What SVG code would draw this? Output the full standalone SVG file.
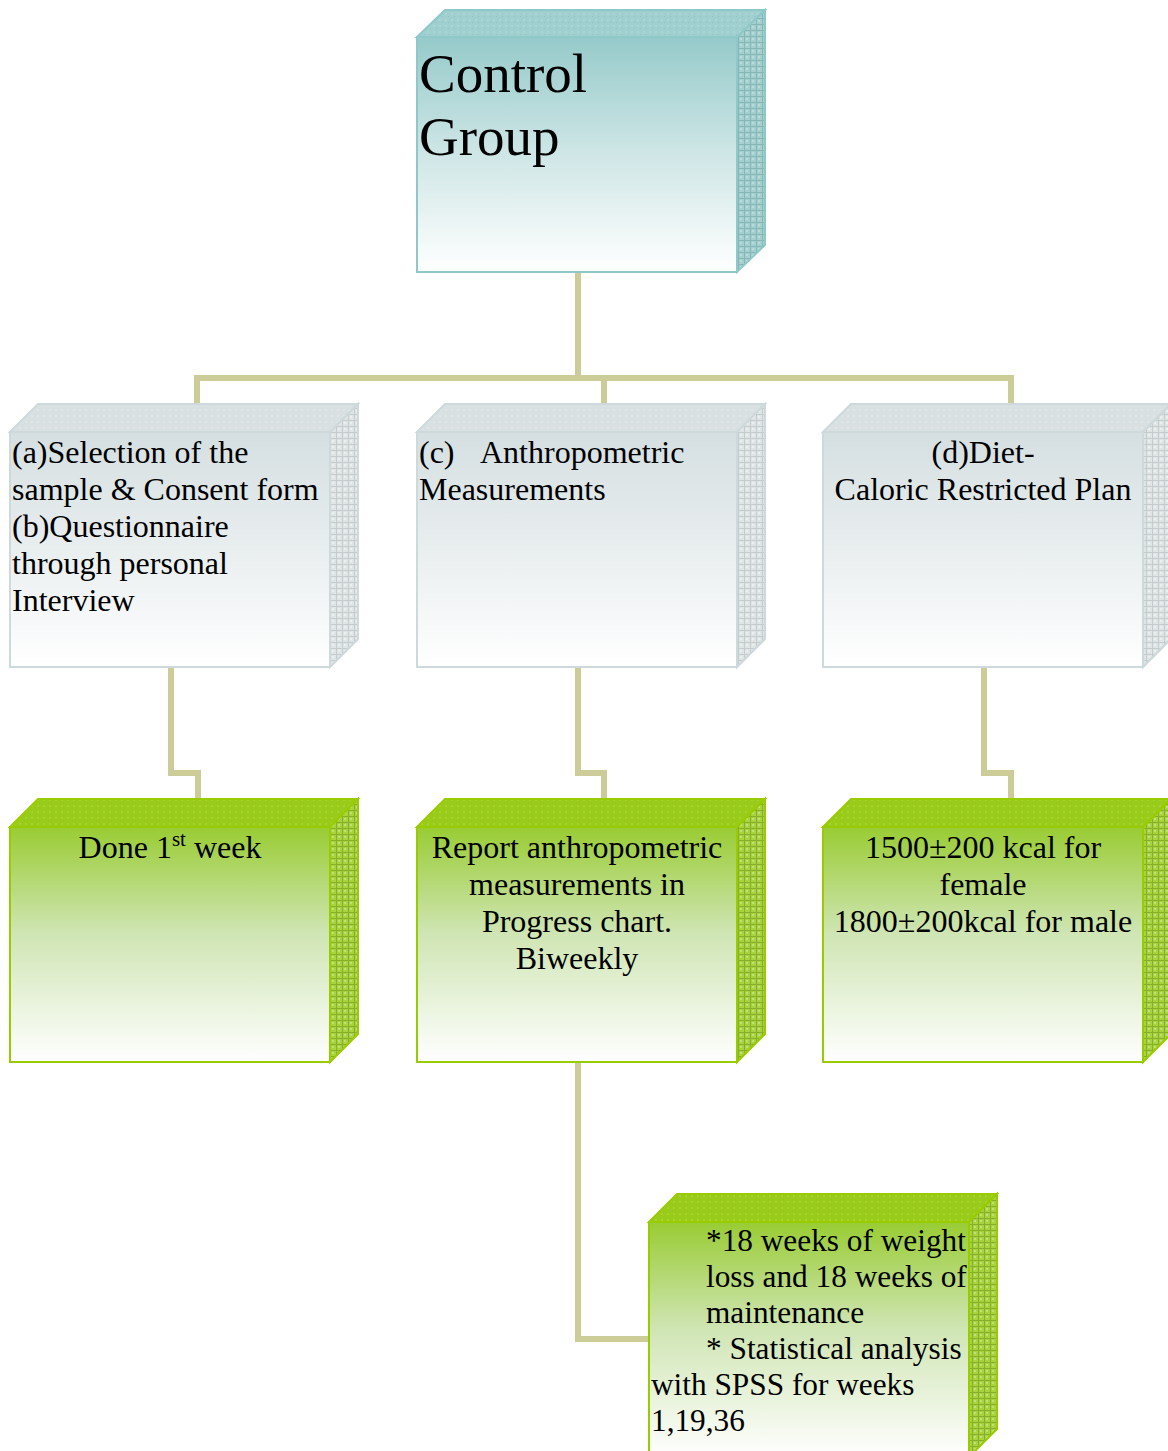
<svg xmlns="http://www.w3.org/2000/svg" width="1168" height="1451" viewBox="0 0 1168 1451">
<style>
text{font-family:"Liberation Serif","Times New Roman",serif;fill:#000}
.t{font-size:32px}
.s{font-size:31.3px}
.big{font-size:55px}
.conn{fill:none;stroke:#cccc99;stroke-width:6;stroke-linejoin:miter}
.fT{stroke:#8fc8c8;stroke-width:2}
.fG{stroke:#cdd9db;stroke-width:2}
.fV{stroke:#99cc00;stroke-width:2}
</style>
<defs>
<linearGradient id="gT" x1="0" y1="0" x2="0" y2="1"><stop offset="0" stop-color="#96caca"/><stop offset="0.5" stop-color="#cfe6e6"/><stop offset="1" stop-color="#ffffff"/></linearGradient>
<linearGradient id="gG" x1="0" y1="0" x2="0" y2="1"><stop offset="0" stop-color="#d5dfe1"/><stop offset="0.5" stop-color="#e9eeef"/><stop offset="1" stop-color="#ffffff"/></linearGradient>
<linearGradient id="gV" x1="0" y1="0" x2="0" y2="1"><stop offset="0" stop-color="#99cc33"/><stop offset="0.45" stop-color="#cfe5b3"/><stop offset="1" stop-color="#ffffff"/></linearGradient>
<pattern id="pT" width="6" height="6" patternUnits="userSpaceOnUse"><rect width="6" height="6" fill="#a3cfcf"/><path d="M0 0.5H6M0.5 0V6" stroke="#86b6b6" stroke-width="1"/><rect x="2" y="2" width="2" height="2" fill="#b8dbdb"/></pattern>
<pattern id="pT2" width="6" height="6" patternUnits="userSpaceOnUse"><rect width="6" height="6" fill="#9fcfcf"/><rect x="1" y="1" width="2" height="2" fill="#aad6d6"/><rect x="4" y="4" width="1" height="1" fill="#8fc3c3"/></pattern>
<pattern id="pG" width="6" height="6" patternUnits="userSpaceOnUse"><rect width="6" height="6" fill="#dfe4e5"/><path d="M0 0.5H6M0.5 0V6" stroke="#c5cccd" stroke-width="1"/><rect x="2" y="2" width="2" height="2" fill="#eceff0"/></pattern>
<pattern id="pG2" width="6" height="6" patternUnits="userSpaceOnUse"><rect width="6" height="6" fill="#d8e0e2"/><rect x="1" y="1" width="2" height="2" fill="#e0e6e8"/></pattern>
<pattern id="pV" width="6" height="6" patternUnits="userSpaceOnUse"><rect width="6" height="6" fill="#a8d23e"/><path d="M0 0.5H6M0.5 0V6" stroke="#86b02c" stroke-width="1"/><rect x="2" y="2" width="2" height="2" fill="#bfdf78"/></pattern>
<pattern id="pV2" width="6" height="6" patternUnits="userSpaceOnUse"><rect width="6" height="6" fill="#99cc1a"/><rect x="1" y="1" width="2" height="2" fill="#a6d42c"/></pattern>
</defs>

<g id="connectors">
<path class="conn" d="M578 272V378H197V404"/>
<path class="conn" d="M578 378H1011V404"/>
<path class="conn" d="M604 378V404"/>
<path class="conn" d="M171 667V773H198V799"/>
<path class="conn" d="M578 667V773H604V799"/>
<path class="conn" d="M984 667V773H1011V799"/>
<path class="conn" d="M578 1062V1339H649"/>
</g>

<g id="control">
<path d="M417 37L445 10H765L737 37Z" fill="url(#pT2)" class="fT"/>
<path d="M737 37L765 10V245L737 272Z" fill="url(#pT)" class="fT"/>
<rect x="417" y="37" width="320" height="235" fill="url(#gT)" class="fT"/>
<text class="big" x="419" y="92">Control</text>
<text class="big" x="419" y="155">Group</text>
</g>

<g id="a">
<path d="M10 432L38 404H358L330 432Z" fill="url(#pG2)" class="fG"/>
<path d="M330 432L358 404V639L330 667Z" fill="url(#pG)" class="fG"/>
<rect x="10" y="432" width="320" height="235" fill="url(#gG)" class="fG"/>
<text class="t" x="12" y="463">(a)Selection of the</text>
<text class="t" x="12" y="500">sample &amp; Consent form</text>
<text class="t" x="12" y="537">(b)Questionnaire</text>
<text class="t" x="12" y="574">through personal</text>
<text class="t" x="12" y="611">Interview</text>
</g>

<g id="c">
<path d="M417 432L445 404H765L737 432Z" fill="url(#pG2)" class="fG"/>
<path d="M737 432L765 404V639L737 667Z" fill="url(#pG)" class="fG"/>
<rect x="417" y="432" width="320" height="235" fill="url(#gG)" class="fG"/>
<text class="t" x="419" y="463">(c)</text>
<text class="t" x="480" y="463">Anthropometric</text>
<text class="t" x="419" y="500">Measurements</text>
</g>

<g id="d">
<path d="M823 432L851 404H1171L1143 432Z" fill="url(#pG2)" class="fG"/>
<path d="M1143 432L1171 404V639L1143 667Z" fill="url(#pG)" class="fG"/>
<rect x="823" y="432" width="320" height="235" fill="url(#gG)" class="fG"/>
<text class="t" x="983" y="463" text-anchor="middle">(d)Diet-</text>
<text class="t" x="983" y="500" text-anchor="middle">Caloric Restricted Plan</text>
</g>

<g id="done">
<path d="M10 827L38 799H358L330 827Z" fill="url(#pV2)" class="fV"/>
<path d="M330 827L358 799V1034L330 1062Z" fill="url(#pV)" class="fV"/>
<rect x="10" y="827" width="320" height="235" fill="url(#gV)" class="fV"/>
<text class="t" x="170" y="858" text-anchor="middle">Done 1<tspan font-size="21" dy="-12">st</tspan><tspan dy="12"> week</tspan></text>
</g>

<g id="report">
<path d="M417 827L445 799H765L737 827Z" fill="url(#pV2)" class="fV"/>
<path d="M737 827L765 799V1034L737 1062Z" fill="url(#pV)" class="fV"/>
<rect x="417" y="827" width="320" height="235" fill="url(#gV)" class="fV"/>
<text class="t" x="577" y="858" text-anchor="middle">Report anthropometric</text>
<text class="t" x="577" y="895" text-anchor="middle">measurements in</text>
<text class="t" x="577" y="932" text-anchor="middle">Progress chart.</text>
<text class="t" x="577" y="969" text-anchor="middle">Biweekly</text>
</g>

<g id="kcal">
<path d="M823 827L851 799H1171L1143 827Z" fill="url(#pV2)" class="fV"/>
<path d="M1143 827L1171 799V1034L1143 1062Z" fill="url(#pV)" class="fV"/>
<rect x="823" y="827" width="320" height="235" fill="url(#gV)" class="fV"/>
<text class="t" x="983" y="858" text-anchor="middle">1500±200 kcal for</text>
<text class="t" x="983" y="895" text-anchor="middle">female</text>
<text class="t" x="983" y="932" text-anchor="middle">1800±200kcal for male</text>
</g>

<g id="weeks">
<path d="M649 1222L677 1194H997L969 1222Z" fill="url(#pV2)" class="fV"/>
<path d="M969 1222L997 1194V1429L969 1457Z" fill="url(#pV)" class="fV"/>
<rect x="649" y="1222" width="320" height="235" fill="url(#gV)" class="fV"/>
<text class="s" x="706" y="1251">*18 weeks of weight</text>
<text class="s" x="706" y="1287">loss and 18 weeks of</text>
<text class="s" x="706" y="1323">maintenance</text>
<text class="s" x="706" y="1359">* Statistical analysis</text>
<text class="s" x="651" y="1395">with SPSS for weeks</text>
<text class="s" x="651" y="1431">1,19,36</text>
</g>
</svg>
